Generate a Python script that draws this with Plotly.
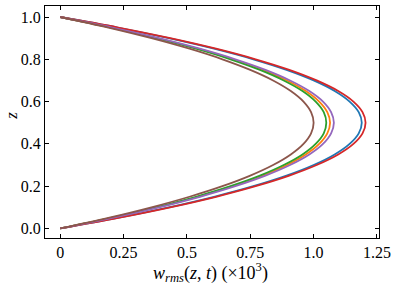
import plotly.graph_objects as go

z = [0.0, 0.05, 0.10, 0.15, 0.20, 0.25, 0.30, 0.35, 0.40, 0.45, 0.50,
     0.55, 0.60, 0.65, 0.70, 0.75, 0.80, 0.85, 0.90, 0.95, 1.0]

w_blue = [0, .226, .428, .607, .762, .893, 1.000, 1.083, 1.142, 1.178, 1.190,
          1.178, 1.142, 1.083, 1.000, .893, .762, .607, .428, .226, 0]
w_orange = [0, .202, .383, .543, .682, .799, .895, .969, 1.022, 1.054, 1.065,
            1.054, 1.022, .969, .895, .799, .682, .543, .383, .202, 0]
w_green = [0, .200, .378, .536, .672, .788, .882, .956, 1.008, 1.040, 1.050,
           1.040, 1.008, .956, .882, .788, .672, .536, .378, .200, 0]
w_red = [0, .229, .434, .615, .771, .904, 1.012, 1.097, 1.157, 1.193, 1.205,
         1.193, 1.157, 1.097, 1.012, .904, .771, .615, .434, .229, 0]
w_purple = [0, .205, .389, .551, .691, .810, .907, .983, 1.037, 1.069, 1.080,
            1.069, 1.037, .983, .907, .810, .691, .551, .389, .205, 0]
w_brown = [0, .19, .36, .51, .64, .75, .84, .91, .96, .99, 1.0,
           .99, .96, .91, .84, .75, .64, .51, .36, .19, 0]

series = [
    (w_blue, "#1f77b4"),
    (w_orange, "#ff7f0e"),
    (w_green, "#2ca02c"),
    (w_red, "#d62728"),
    (w_purple, "#9467bd"),
    (w_brown, "#8c564b"),
]

x_tickvals = [0, 0.25, 0.5, 0.75, 1.0, 1.25]
x_ticktext = ["0", "0.25", "0.5", "0.75", "1.0", "1.25"]
y_tickvals = [0.0, 0.2, 0.4, 0.6, 0.8, 1.0]
y_ticktext = ["0.0", "0.2", "0.4", "0.6", "0.8", "1.0"]

fig = go.Figure()
for w, c in series:
    fig.add_trace(go.Scatter(x=w, y=z, mode="lines",
                             line=dict(color=c, width=1.8, shape="spline", smoothing=1.0),
                             showlegend=False, hoverinfo="skip"))

font = dict(family="Liberation Serif, DejaVu Serif, serif", size=16, color="black")
axis_common = dict(showgrid=False, zeroline=False, showline=True, linecolor="black",
                   linewidth=1.2, mirror="ticks", ticks="inside", ticklen=4,
                   tickwidth=1, tickcolor="black", tickfont=font, automargin=False)

fig.update_layout(
    width=399, height=292,
    margin=dict(l=45, r=20, t=6, b=54),
    paper_bgcolor="white", plot_bgcolor="white",
    font=font,
    xaxis=dict(range=[-0.06, 1.258], tickvals=x_tickvals, ticktext=x_ticktext,
               **axis_common),
    yaxis=dict(range=[-0.045, 1.052], tickvals=y_tickvals, ticktext=y_ticktext,
               **axis_common),
    annotations=[
        dict(text="<i>w</i><sub><i>rms</i></sub>(<i>z</i>, <i>t</i>) (×10<sup>3</sup>)",
             xref="paper", yref="paper", x=0.495, y=-0.147, yanchor="middle",
             showarrow=False, font=dict(family="Liberation Serif, serif", size=18, color="black")),
        dict(text="<i>z</i>", xref="paper", yref="paper", x=-0.1, y=0.525,
             xanchor="center", yanchor="middle", textangle=-90, showarrow=False,
             font=dict(family="Liberation Serif, serif", size=17, color="black")),
    ],
)

fig.write_html("out.html", config={"displayModeBar": False},
               post_script="document.body.style.margin='0px';")
